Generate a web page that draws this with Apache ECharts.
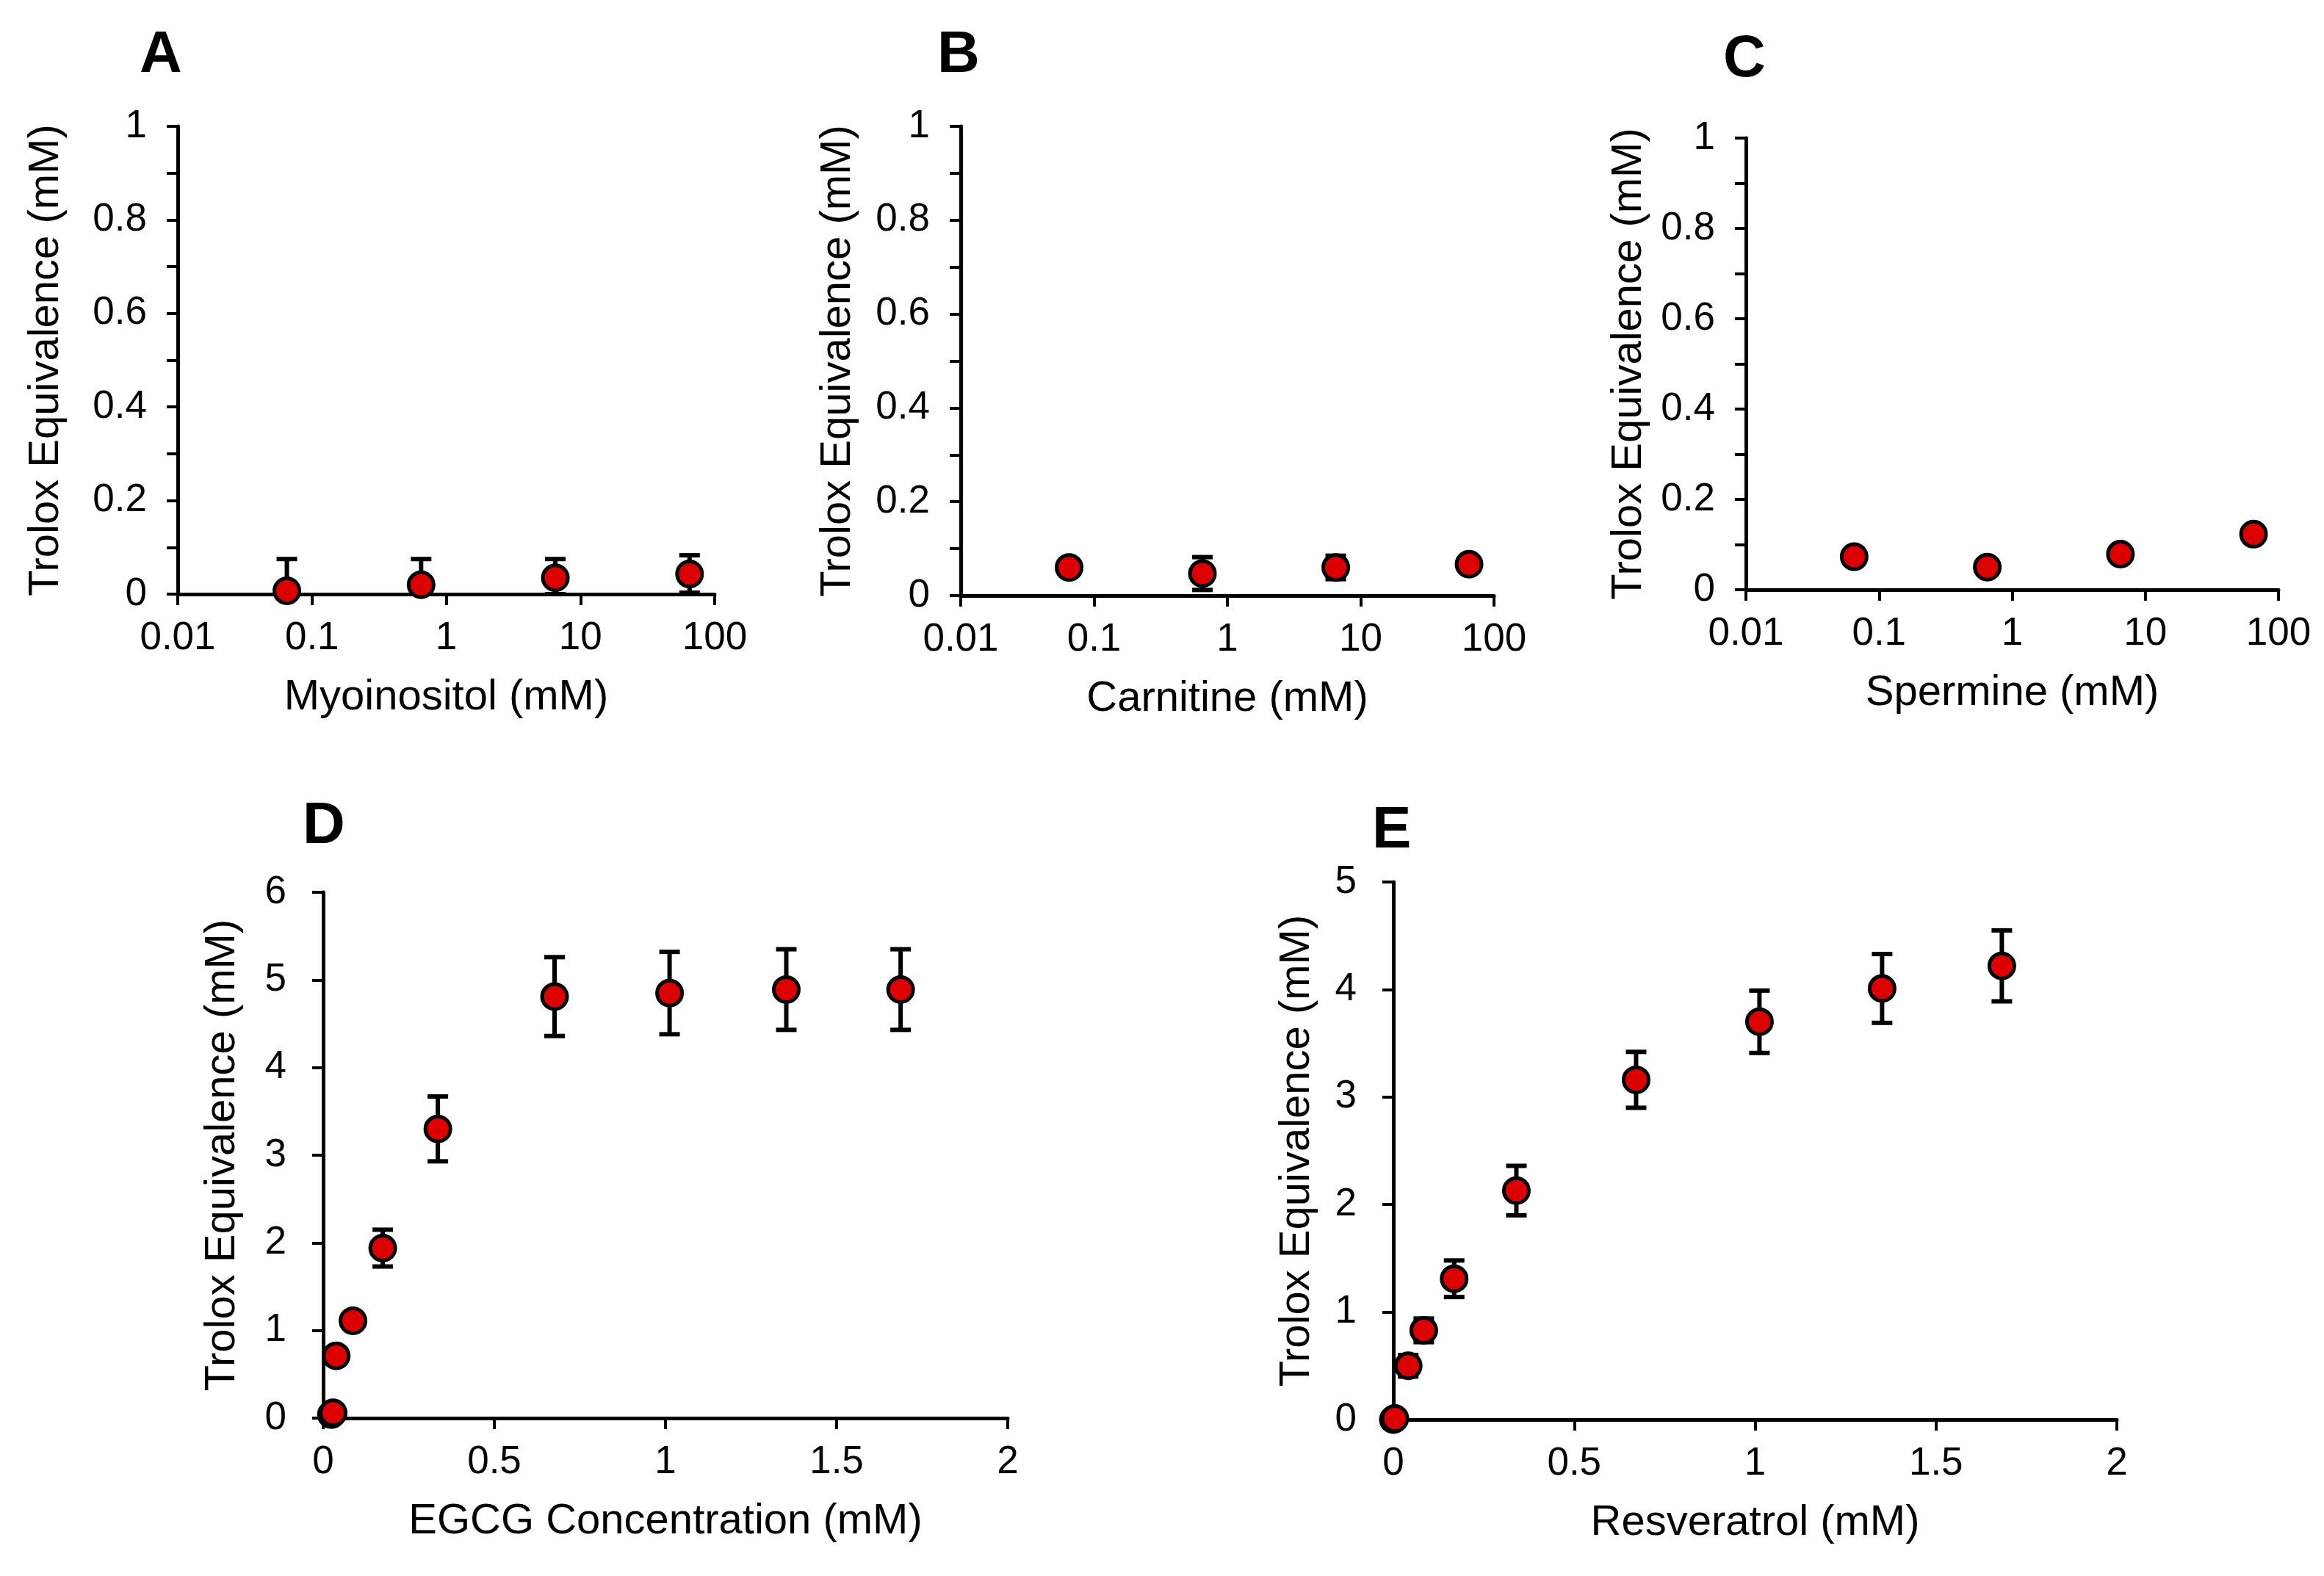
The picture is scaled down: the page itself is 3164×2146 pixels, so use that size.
<!DOCTYPE html>
<html>
<head>
<meta charset="utf-8">
<script src="https://cdn.jsdelivr.net/npm/echarts@6/dist/echarts.min.js"></script>
<style>
  html, body { margin: 0; padding: 0; background: #fff; }
  #main { width: 3164px; height: 2146px; }
</style>
</head>
<body>
<div id="main"></div>
<script>
    // concentrations for the log panels (mM)
    const logConc = [0.065, 0.65, 6.5, 65];
    const logTicks = [0.01, 0.1, 1, 10, 100];

    const myoY = [0.007, 0.020, 0.035, 0.043];
    const myoErr = [0.068, 0.055, 0.040, 0.040];

    const carY = [0.060, 0.047, 0.060, 0.067];
    const carErr = [0.005, 0.035, 0.025, 0.005];

    const speY = [0.073, 0.050, 0.079, 0.123];
    const speErr = [0.004, 0.004, 0.004, 0.004];

    const egcgX = [0.024, 0.029, 0.038, 0.087, 0.174, 0.335, 0.676, 1.012, 1.353, 1.687];
    const egcgY = [0.04, 0.06, 0.71, 1.11, 1.94, 3.30, 4.81, 4.85, 4.89, 4.89];
    const egcgErr = [0.02, 0.02, 0.05, 0.06, 0.21, 0.37, 0.45, 0.47, 0.46, 0.46];

    const resX = [0.0, 0.004, 0.041, 0.084, 0.168, 0.34, 0.671, 1.012, 1.351, 1.682];
    const resY = [0.0, 0.01, 0.50, 0.83, 1.31, 2.13, 3.16, 3.70, 4.01, 4.22];
    const resErr = [0.01, 0.01, 0.10, 0.11, 0.17, 0.23, 0.26, 0.29, 0.32, 0.33];

    const panels = [
        { letter: 'A', name: 'Myoinositol (mM)', x: logConc, y: myoY, err: myoErr, log: true,
          grid: { left: 242, top: 172, width: 731, height: 637 }, yGap: 150, tag: [190, 36], yMax: 1 },
        { letter: 'B', name: 'Carnitine (mM)', x: logConc, y: carY, err: carErr, log: true,
          grid: { left: 1308, top: 172, width: 726, height: 639 }, yGap: 138, tag: [1276, 36], yMax: 1 },
        { letter: 'C', name: 'Spermine (mM)', x: logConc, y: speY, err: speErr, log: true,
          grid: { left: 2377, top: 188, width: 725, height: 615 }, yGap: 130, tag: [2346, 42], yMax: 1 },
        { letter: 'D', name: 'EGCG Concentration (mM)', x: egcgX, y: egcgY, err: egcgErr, log: false,
          grid: { left: 440, top: 1215, width: 932, height: 716 }, yGap: 108, tag: [412, 1086], yMax: 6 },
        { letter: 'E', name: 'Resveratrol (mM)', x: resX, y: resY, err: resErr, log: false,
          grid: { left: 1897, top: 1201, width: 985, height: 732 }, yGap: 102, tag: [1868, 1092], yMax: 5 }
    ];

    const FONT = '"Liberation Sans", Arial, sans-serif';
    const BLACK = '#000';
    const RED = '#dd0000';

    const myChart = echarts.init(document.getElementById('main'), null, { renderer: 'canvas', devicePixelRatio: 1 });

    const axisLine = { show: true, onZero: false, lineStyle: { color: BLACK, width: 5 } };
    const axisTick = { show: true, inside: false, length: 15, lineStyle: { color: BLACK, width: 4 } };
    const nameStyle = { fontFamily: FONT, fontSize: 58, color: BLACK };

    let grid = [], xAxis = [], yAxis = [], series = [], graphic = [];

    panels.forEach((p, i) => {
        grid.push(p.grid);

        if (p.log) {
            xAxis.push({
                gridIndex: i, type: 'log', logBase: 10, min: logTicks[0], max: logTicks[logTicks.length - 1],
                name: p.name, nameLocation: 'middle', nameGap: 112, nameTextStyle: nameStyle,
                axisLine: axisLine, axisTick: axisTick, splitLine: { show: false },
                axisLabel: { fontFamily: FONT, fontSize: 53, color: BLACK, margin: 34,
                    formatter: v => String(+(+v).toPrecision(6)) }
            });
            yAxis.push({
                gridIndex: i, type: 'value', min: 0, max: 1, interval: 0.2,
                name: 'Trolox Equivalence (mM)', nameLocation: 'middle', nameGap: p.yGap, nameTextStyle: nameStyle,
                axisLine: axisLine, axisTick: axisTick, splitLine: { show: false },
                minorTick: { show: true, splitNumber: 2, length: 15, lineStyle: { color: BLACK, width: 4 } },
                axisLabel: { fontFamily: FONT, fontSize: 53, color: BLACK, margin: 42 }
            });
        } else {
            xAxis.push({
                gridIndex: i, type: 'value', min: 0, max: 2, interval: 0.5,
                name: p.name, nameLocation: 'middle', nameGap: 112, nameTextStyle: nameStyle,
                axisLine: axisLine, axisTick: axisTick, splitLine: { show: false },
                axisLabel: { fontFamily: FONT, fontSize: 53, color: BLACK, margin: 34 }
            });
            yAxis.push({
                gridIndex: i, type: 'value', min: 0, max: p.yMax, interval: 1,
                name: 'Trolox Equivalence (mM)', nameLocation: 'middle', nameGap: p.yGap, nameTextStyle: nameStyle,
                axisLine: axisLine, axisTick: axisTick, splitLine: { show: false },
                axisLabel: { fontFamily: FONT, fontSize: 53, color: BLACK, margin: 50 }
            });
        }

        const pts = p.x.map((xv, k) => [xv, p.y[k], p.err[k]]);

        // error bars
        series.push({
            type: 'custom', xAxisIndex: i, yAxisIndex: i, clip: true, z: 2,
            data: pts,
            renderItem: function (params, api) {
                const xv = api.value(0), yv = api.value(1), e = api.value(2);
                const top = api.coord([xv, yv + e]);
                const bot = api.coord([xv, Math.max(yv - e, 0)]);
                const cap = 14;
                const style = { stroke: BLACK, lineWidth: 6 };
                return {
                    type: 'group',
                    children: [
                        { type: 'line', shape: { x1: top[0], y1: top[1], x2: bot[0], y2: bot[1] }, style: style },
                        { type: 'line', shape: { x1: top[0] - cap, y1: top[1], x2: top[0] + cap, y2: top[1] }, style: style },
                        { type: 'line', shape: { x1: bot[0] - cap, y1: bot[1], x2: bot[0] + cap, y2: bot[1] }, style: style }
                    ]
                };
            }
        });

        series.push({
            type: 'scatter', xAxisIndex: i, yAxisIndex: i, z: 3,
            symbol: 'circle', symbolSize: 34,
            itemStyle: { color: RED, borderColor: BLACK, borderWidth: 5, opacity: 1 },
            data: pts.map(d => [d[0], d[1]])
        });

        graphic.push({
            type: 'text', left: p.tag[0], top: p.tag[1],
            style: { text: p.letter, fontFamily: FONT, fontWeight: 'bold', fontSize: 80, fill: BLACK }
        });
    });

    const option = {
        backgroundColor: '#fff',
        animation: false,
        grid: grid,
        xAxis: xAxis,
        yAxis: yAxis,
        series: series,
        graphic: graphic
    };
    myChart.setOption(option);
</script>
</body>
</html>
